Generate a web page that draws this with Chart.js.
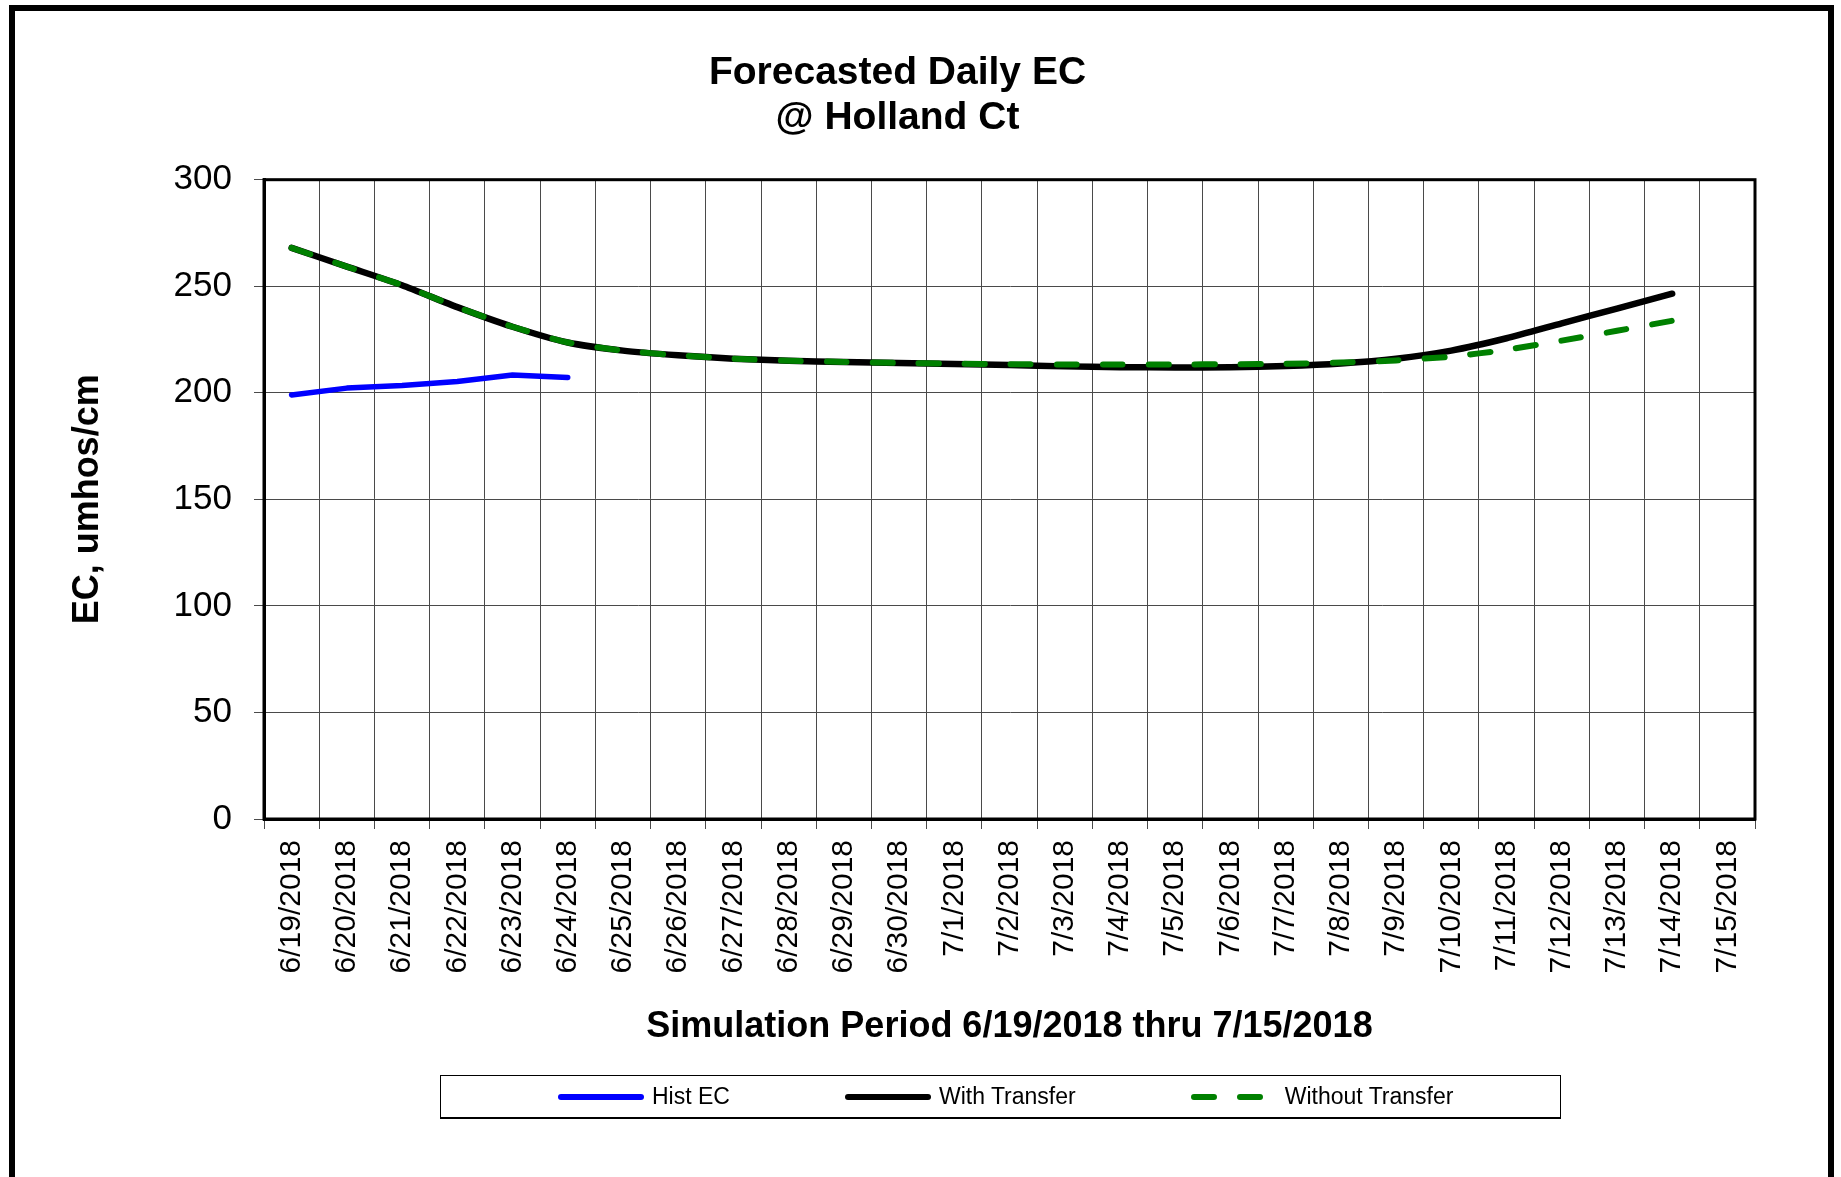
<!DOCTYPE html>
<html>
<head>
<meta charset="utf-8">
<script src="https://cdn.jsdelivr.net/npm/chart.js@4.4.0/dist/chart.umd.min.js"></script>
<style>
  html, body { margin: 0; padding: 0; background: #fff; overflow: hidden; }
  #wrap { position: relative; width: 1841px; height: 1177px; }
  #ecCanvas { position: absolute; left: 0; top: 0; }
  #frame {
    position: absolute; left: 9px; top: 5px; width: 1825px; height: 1240px;
    border: 6px solid #000; box-sizing: border-box; pointer-events: none;
  }
  #ecLegend {
    position: absolute; left: 440px; top: 1075px; width: 1121px; height: 44px;
    border: 1px solid #000; border-bottom-width: 2px; box-sizing: border-box;
    display: flex; align-items: center; padding-left: 117px;
    font-family: 'Liberation Sans', Arial, sans-serif; font-size: 23px; color: #000;
    white-space: nowrap;
  }
  .leg-item { display: flex; align-items: center; margin-right: 115px; flex-shrink: 0; }
  .leg-item svg { margin-right: 8px; flex-shrink: 0; }
</style>
</head>
<body>
<div id="wrap">
  <canvas id="ecCanvas" width="1841" height="1177"></canvas>
  <div id="frame"></div>
  <div id="ecLegend"></div>
</div>
<script>
const DATES = [
  '6/19/2018', '6/20/2018', '6/21/2018', '6/22/2018', '6/23/2018', '6/24/2018',
  '6/25/2018', '6/26/2018', '6/27/2018', '6/28/2018', '6/29/2018', '6/30/2018',
  '7/1/2018', '7/2/2018', '7/3/2018', '7/4/2018', '7/5/2018', '7/6/2018',
  '7/7/2018', '7/8/2018', '7/9/2018', '7/10/2018', '7/11/2018', '7/12/2018',
  '7/13/2018', '7/14/2018', '7/15/2018',
];

const HIST_EC = [
  199, 202.2, 203.4, 205.3, 208.4, 207.2,
  null, null, null, null, null, null, null, null, null, null, null, null,
  null, null, null, null, null, null, null, null, null,
];

const WITH_TRANSFER = [
  268, 259.2, 250.5, 240.2, 231, 223.6, 219.8, 217.6, 216, 215, 214.5, 214,
  213.5, 213, 212.4, 212, 211.9, 212, 212.6, 213.8, 216, 219.8, 225.6, 232.6,
  239.5, 246.5, null,
];

const WITHOUT_TRANSFER = [
  268, 259.2, 250.5, 240.2, 231, 223.6, 219.8, 217.6, 216, 215, 214.5, 214,
  213.7, 213.4, 213.3, 213.3, 213.3, 213.4, 213.6, 214.2, 215.2, 217, 220.2, 224.5,
  229.1, 233.8, null,
];

const Y_TICKS = [0, 50, 100, 150, 200, 250, 300];

Chart.defaults.font.family = "'Liberation Sans', Arial, sans-serif";
Chart.defaults.color = '#000';

const GRID = '#4a4a4a';

// outline of the plot area (Excel-style box)
const plotFrame = {
  id: 'plotFrame',
  beforeDatasetsDraw(chart) {
    const { ctx, chartArea: a } = chart;
    ctx.save();
    ctx.strokeStyle = '#000';
    ctx.lineWidth = 3;
    ctx.strokeRect(a.left, a.top, a.right - a.left, a.bottom - a.top);
    ctx.restore();
  },
};

const canvas = document.getElementById('ecCanvas');

const chart = new Chart(canvas, {
  type: 'line',
  data: {
    labels: DATES,
    datasets: [
      {
        label: 'Hist EC',
        data: HIST_EC,
        borderColor: '#0000ff',
        borderWidth: 5.5,
        borderCapStyle: 'round',
        borderJoinStyle: 'round',
        pointRadius: 0,
        tension: 0,
        order: 0,
      },
      {
        label: 'With Transfer',
        data: WITH_TRANSFER,
        borderColor: '#000000',
        borderWidth: 6.5,
        borderCapStyle: 'round',
        borderJoinStyle: 'round',
        pointRadius: 0,
        tension: 0.2,
        order: 2,
      },
      {
        label: 'Without Transfer',
        data: WITHOUT_TRANSFER,
        borderColor: '#008000',
        borderWidth: 6,
        borderDash: [20, 26],
        borderCapStyle: 'round',
        borderJoinStyle: 'round',
        pointRadius: 0,
        tension: 0.2,
        order: 1,
      },
    ],
  },
  options: {
    responsive: false,
    animation: false,
    maintainAspectRatio: false,
    layout: { padding: { left: 40, right: 86, top: 0, bottom: 101 } },
    plugins: {
      legend: { display: false },
      tooltip: { enabled: false },
      title: {
        display: true,
        text: ['Forecasted Daily EC', '@ Holland Ct'],
        color: '#000',
        font: { size: 39, weight: 'bold', lineHeight: 1.15 },
        padding: { top: 51, bottom: 39 },
      },
    },
    scales: {
      x: {
        type: 'category',
        offset: true,
        grid: { offset: true, color: GRID, lineWidth: 1, tickLength: 10, drawTicks: true },
        border: { display: true, color: '#000', width: 3 },
        ticks: {
          autoSkip: false,
          minRotation: 90,
          maxRotation: 90,
          padding: 11,
          font: { size: 30 },
          color: '#000',
        },
        title: {
          display: true,
          text: 'Simulation Period 6/19/2018 thru 7/15/2018',
          font: { size: 36, weight: 'bold', lineHeight: 1.2 },
          color: '#000',
          padding: { top: 0, bottom: 27 },
        },
        afterFit(scale) { scale.height = 257; },
      },
      y: {
        min: Y_TICKS[0],
        max: Y_TICKS[Y_TICKS.length - 1],
        grid: { color: GRID, lineWidth: 1, tickLength: 10, drawTicks: true },
        border: { display: true, color: '#000', width: 3 },
        ticks: {
          stepSize: 50,
          padding: 22,
          font: { size: 35 },
          color: '#000',
        },
        title: {
          display: true,
          text: 'EC, umhos/cm',
          font: { size: 36, weight: 'bold', lineHeight: 1.2 },
          color: '#000',
          padding: { top: 26, bottom: 0 },
        },
        afterFit(scale) { scale.width = 224; },
      },
    },
  },
  plugins: [plotFrame],
});

// Custom legend box below the chart
const legendEl = document.getElementById('ecLegend');
legendEl.innerHTML = chart.data.datasets
  .map((ds) => {
    const dash = ds.borderDash ? `stroke-dasharray="${ds.borderDash.join(' ')}"` : '';
    return `
    <span class="leg-item">
      <svg width="86" height="12"><line x1="3" y1="6" x2="83" y2="6" stroke="${ds.borderColor}"
        stroke-width="6" stroke-linecap="round" ${dash}/></svg>
      <span>${ds.label}</span>
    </span>`;
  })
  .join('');
</script>
</body>
</html>
